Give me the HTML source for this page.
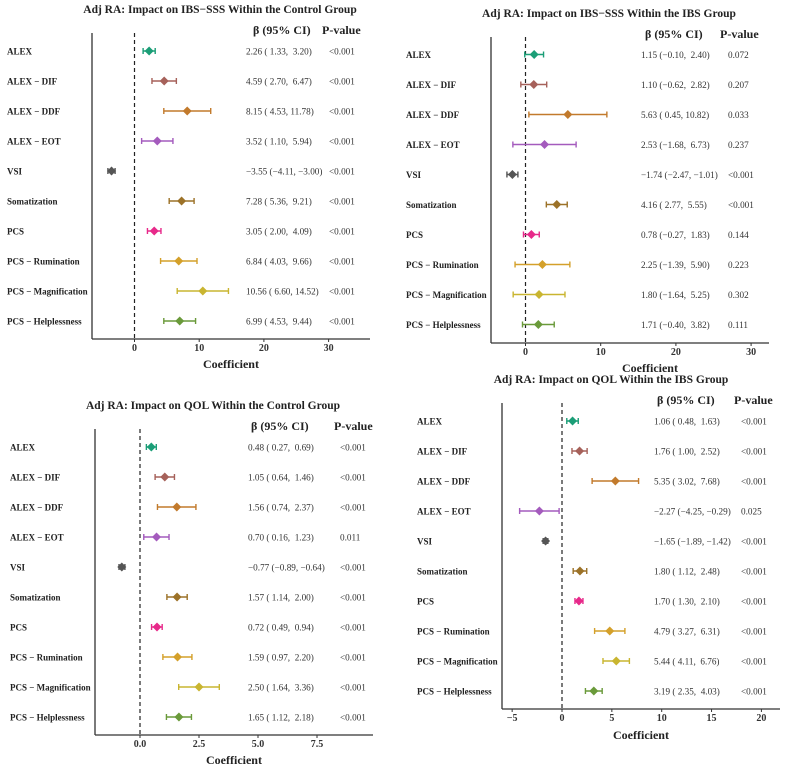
<!DOCTYPE html>
<html><head><meta charset="utf-8">
<style>
html,body{margin:0;padding:0;background:#fff;}
svg{display:block;font-family:"Liberation Serif",serif;}
</style></head>
<body>
<svg id="chart" width="796" height="769" viewBox="0 0 796 769"></svg>
<script>
const colors = ["#1b9e77","#a6615a","#c27a2c","#a45bbd","#555555","#9c7228","#e7298a","#d4a02a","#c9b530","#6a9a3a"];
const labels = ["ALEX","ALEX \u2212 DIF","ALEX \u2212 DDF","ALEX \u2212 EOT","VSI","Somatization","PCS","PCS \u2212 Rumination","PCS \u2212 Magnification","PCS \u2212 Helplessness"];

// Panel 1: IBS-SSS control
const p1Est = [2.26,4.59,8.15,3.52,-3.55,7.28,3.05,6.84,10.56,6.99];
const p1Lo  = [1.33,2.70,4.53,1.10,-4.11,5.36,2.00,4.03,6.60,4.53];
const p1Hi  = [3.20,6.47,11.78,5.94,-3.00,9.21,4.09,9.66,14.52,9.44];
const p1Txt = ["2.26 ( 1.33,  3.20)","4.59 ( 2.70,  6.47)","8.15 ( 4.53, 11.78)","3.52 ( 1.10,  5.94)","\u22123.55 (\u22124.11, \u22123.00)","7.28 ( 5.36,  9.21)","3.05 ( 2.00,  4.09)","6.84 ( 4.03,  9.66)","10.56 ( 6.60, 14.52)","6.99 ( 4.53,  9.44)"];
const p1P   = ["<0.001","<0.001","<0.001","<0.001","<0.001","<0.001","<0.001","<0.001","<0.001","<0.001"];
const p1Ticks = [0,10,20,30];
const p1TickLabels = ["0","10","20","30"];

// Panel 2: IBS-SSS IBS
const p2Est = [1.15,1.10,5.63,2.53,-1.74,4.16,0.78,2.25,1.80,1.71];
const p2Lo  = [-0.10,-0.62,0.45,-1.68,-2.47,2.77,-0.27,-1.39,-1.64,-0.40];
const p2Hi  = [2.40,2.82,10.82,6.73,-1.01,5.55,1.83,5.90,5.25,3.82];
const p2Txt = ["1.15 (\u22120.10,  2.40)","1.10 (\u22120.62,  2.82)","5.63 ( 0.45, 10.82)","2.53 (\u22121.68,  6.73)","\u22121.74 (\u22122.47, \u22121.01)","4.16 ( 2.77,  5.55)","0.78 (\u22120.27,  1.83)","2.25 (\u22121.39,  5.90)","1.80 (\u22121.64,  5.25)","1.71 (\u22120.40,  3.82)"];
const p2P   = ["0.072","0.207","0.033","0.237","<0.001","<0.001","0.144","0.223","0.302","0.111"];
const p2Ticks = [0,10,20,30];
const p2TickLabels = ["0","10","20","30"];

// Panel 3: QOL control
const p3Est = [0.48,1.05,1.56,0.70,-0.77,1.57,0.72,1.59,2.50,1.65];
const p3Lo  = [0.27,0.64,0.74,0.16,-0.89,1.14,0.49,0.97,1.64,1.12];
const p3Hi  = [0.69,1.46,2.37,1.23,-0.64,2.00,0.94,2.20,3.36,2.18];
const p3Txt = ["0.48 ( 0.27,  0.69)","1.05 ( 0.64,  1.46)","1.56 ( 0.74,  2.37)","0.70 ( 0.16,  1.23)","\u22120.77 (\u22120.89, \u22120.64)","1.57 ( 1.14,  2.00)","0.72 ( 0.49,  0.94)","1.59 ( 0.97,  2.20)","2.50 ( 1.64,  3.36)","1.65 ( 1.12,  2.18)"];
const p3P   = ["<0.001","<0.001","<0.001","0.011","<0.001","<0.001","<0.001","<0.001","<0.001","<0.001"];
const p3Ticks = [0,2.5,5,7.5];
const p3TickLabels = ["0.0","2.5","5.0","7.5"];

// Panel 4: QOL IBS
const p4Est = [1.06,1.76,5.35,-2.27,-1.65,1.80,1.70,4.79,5.44,3.19];
const p4Lo  = [0.48,1.00,3.02,-4.25,-1.89,1.12,1.30,3.27,4.11,2.35];
const p4Hi  = [1.63,2.52,7.68,-0.29,-1.42,2.48,2.10,6.31,6.76,4.03];
const p4Txt = ["1.06 ( 0.48,  1.63)","1.76 ( 1.00,  2.52)","5.35 ( 3.02,  7.68)","\u22122.27 (\u22124.25, \u22120.29)","\u22121.65 (\u22121.89, \u22121.42)","1.80 ( 1.12,  2.48)","1.70 ( 1.30,  2.10)","4.79 ( 3.27,  6.31)","5.44 ( 4.11,  6.76)","3.19 ( 2.35,  4.03)"];
const p4P   = ["<0.001","<0.001","<0.001","0.025","<0.001","<0.001","<0.001","<0.001","<0.001","<0.001"];
const p4Ticks = [-5,0,5,10,15,20];
const p4TickLabels = ["\u22125","0","5","10","15","20"];

const NS = "http://www.w3.org/2000/svg";
const svg = document.getElementById("chart");
function mk(tag, attrs, parent, text){
  const e = document.createElementNS(NS, tag);
  for (const k in attrs) e.setAttribute(k, attrs[k]);
  if (text !== undefined) e.textContent = text;
  parent.appendChild(e);
  return e;
}

function panel(cfg){
  const g = mk("g", {}, svg);
  
  
  const x = v => cfg.x0 + v * cfg.ppu;
  const rowY = i => cfg.rowY0 + i * 30;

  const t = mk("text", {x: cfg.titleX, y: cfg.titleY, "text-anchor":"middle", "font-size":"11.5", "font-weight":"bold", fill:"#222"}, g, cfg.title);
  
  

  const h1 = mk("text", {x: cfg.hbX, y: cfg.hY, "font-size":"12", "font-weight":"bold", fill:"#222"}, g, "\u03b2 (95% CI)");
  
  
  const h2 = mk("text", {x: cfg.hpX, y: cfg.hY, "font-size":"12", "font-weight":"bold", fill:"#222"}, g, "P-value");
  
  

  const ya = mk("line", {x1: cfg.axX, x2: cfg.axX, y1: cfg.axTop, y2: cfg.axBot, stroke:"#333", "stroke-width":"1.3"}, g);
  
  
  const xa = mk("line", {x1: cfg.axX, x2: cfg.axRight, y1: cfg.axBot, y2: cfg.axBot, stroke:"#333", "stroke-width":"1.3"}, g);
  
  

  const zl = mk("line", {x1: x(0), x2: x(0), y1: cfg.axTop, y2: cfg.axBot, stroke:"#222", "stroke-width":"1.2", "stroke-dasharray":"4,3"}, g);
  
  

  cfg.ticks.forEach((tv, i) => {
    const tk = mk("line", {x1: x(tv), x2: x(tv), y1: cfg.axBot, y2: cfg.axBot + 3, stroke:"#333"}, g);
    
    
    const tl = mk("text", {x: x(tv), y: cfg.axBot + 12, "text-anchor":"middle", "font-size":"10", "font-weight":"bold", fill:"#333"}, g, cfg.tickLabels[i]);
    
    
  });

  const xt = mk("text", {x: cfg.xtX, y: cfg.xtY, "text-anchor":"middle", "font-size":"12", "font-weight":"bold", fill:"#222"}, g, "Coefficient");
  
  

  labels.forEach((lab, i) => {
    const y = rowY(i);
    const lt = mk("text", {x: cfg.labX, y: y + 3.5, "font-size":"9", "font-weight":"bold", fill:"#222"}, g, lab);
    
    

    const lo = x(cfg.lo[i]), hi = x(cfg.hi[i]), c = colors[i];
    const eb = mk("path", {d:`M${lo},${y}H${hi}M${lo},${y-3}V${y+3}M${hi},${y-3}V${y+3}`, stroke:c, "stroke-width":"1.4", fill:"none"}, g);
    
    
    const ex = x(cfg.est[i]);
    const d = mk("path", {d:`M${ex},${y-4.5}L${ex+4.5},${y}L${ex},${y+4.5}L${ex-4.5},${y}Z`, fill:c}, g);
    
    

    const et = mk("text", {x: cfg.estX, y: y + 3.5, "font-size":"9.2", fill:"#333"}, g, cfg.txt[i]);
    et.setAttribute('style','white-space:pre');
    
    
    const pt = mk("text", {x: cfg.pX, y: y + 3.5, "font-size":"9.2", fill:"#333"}, g, cfg.p[i]);
    
    
  });
}

panel({name:"panel-ibs-sss-control", title:"Adj RA: Impact on IBS\u2212SSS Within the Control Group",
  titleX:220, titleY:13, hbX:253, hpX:322, hY:34,
  axX:92, axTop:33, axBot:339, axRight:370, x0:134.5, ppu:6.47,
  ticks:p1Ticks, tickLabels:p1TickLabels, xtX:231, xtY:368, rowY0:51,
  labX:7, estX:246, pX:329, est:p1Est, lo:p1Lo, hi:p1Hi, txt:p1Txt, p:p1P});

panel({name:"panel-ibs-sss-ibs", title:"Adj RA: Impact on IBS\u2212SSS Within the IBS Group",
  titleX:609, titleY:17, hbX:645, hpX:720, hY:38,
  axX:491, axTop:37, axBot:343, axRight:769, x0:525.5, ppu:7.52,
  ticks:p2Ticks, tickLabels:p2TickLabels, xtX:650, xtY:372, rowY0:54.5,
  labX:406, estX:641, pX:728, est:p2Est, lo:p2Lo, hi:p2Hi, txt:p2Txt, p:p2P});

panel({name:"panel-qol-control", title:"Adj RA: Impact on QOL Within the Control Group",
  titleX:213, titleY:409, hbX:251, hpX:334, hY:430,
  axX:95, axTop:429, axBot:735, axRight:373, x0:140, ppu:23.6,
  ticks:p3Ticks, tickLabels:p3TickLabels, xtX:234, xtY:764, rowY0:447,
  labX:10, estX:248, pX:340, est:p3Est, lo:p3Lo, hi:p3Hi, txt:p3Txt, p:p3P});

panel({name:"panel-qol-ibs", title:"Adj RA: Impact on QOL Within the IBS Group",
  titleX:611, titleY:383, hbX:657, hpX:734, hY:404,
  axX:502, axTop:403, axBot:709, axRight:780, x0:562, ppu:9.97,
  ticks:p4Ticks, tickLabels:p4TickLabels, xtX:641, xtY:739, rowY0:421,
  labX:417, estX:654, pX:741, est:p4Est, lo:p4Lo, hi:p4Hi, txt:p4Txt, p:p4P});
</script>
</body></html>
